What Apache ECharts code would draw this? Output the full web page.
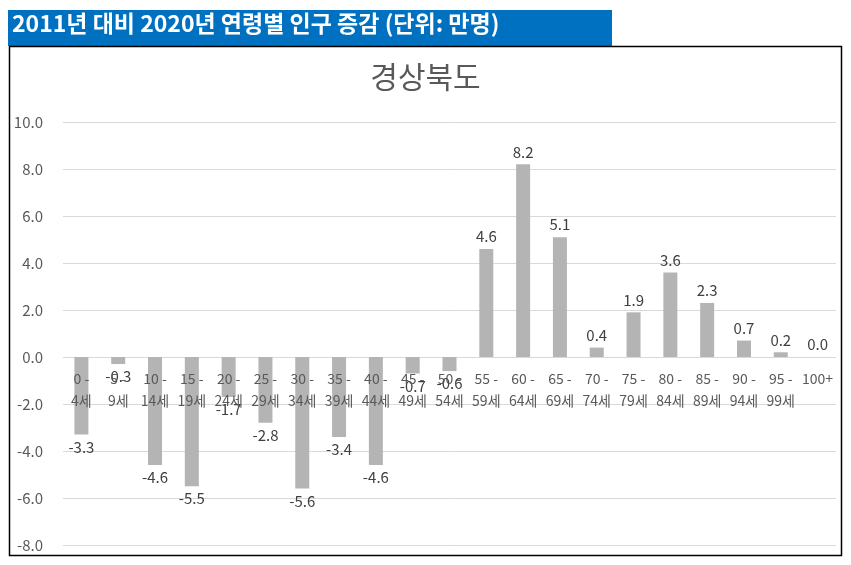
<!DOCTYPE html>
<html>
<head>
<meta charset="utf-8">
<script src="https://cdn.jsdelivr.net/npm/echarts@6/dist/echarts.min.js"></script>
<style>
html,body{margin:0;padding:0;background:#fff;}
#c{width:851px;height:565px;}
</style>
</head>
<body>
<div id="c"></div>
<script>
var headerText = '2011년 대비 2020년 연령별 인구 증감 (단위: 만명)';
var chartTitle = '경상북도';
var categories = ['0 -\n4세','5 -\n9세','10 -\n14세','15 -\n19세','20 -\n24세','25 -\n29세','30 -\n34세','35 -\n39세','40 -\n44세','45 -\n49세','50 -\n54세','55 -\n59세','60 -\n64세','65 -\n69세','70 -\n74세','75 -\n79세','80 -\n84세','85 -\n89세','90 -\n94세','95 -\n99세','100+'];
var values = [-3.3,-0.3,-4.6,-5.5,-1.7,-2.8,-5.6,-3.4,-4.6,-0.7,-0.6,4.6,8.2,5.1,0.4,1.9,3.6,2.3,0.7,0.2,0.0];
var yMin = -8, yMax = 10, yStep = 2;

var font = '"Noto Sans CJK KR", "Noto Sans", sans-serif';
var chart = echarts.init(document.getElementById('c'));
chart.setOption({
  animation: false,
  textStyle: {fontFamily: font},
  title: {
    text: chartTitle,
    left: 'center',
    top: 57,
    textStyle: {fontSize: 30, fontWeight: 'normal', color: '#595959', fontFamily: font}
  },
  graphic: [
    {type: 'rect', shape: {x: 8, y: 10, width: 604, height: 36}, style: {fill: '#0070c0'}},
    {type: 'text', left: 12, top: 12, style: {text: headerText, fill: '#fff', font: 'bold 23px ' + font}},
    {type: 'rect', shape: {x: 9.5, y: 46.5, width: 832, height: 509}, style: {fill: 'none', stroke: '#000', lineWidth: 1.5}}
  ],
  grid: {left: 63, right: 15, top: 122, bottom: 20, containLabel: false, outerBoundsMode: 'none'},
  xAxis: {
    type: 'category',
    data: categories,
    z: 10,
    axisLine: {onZero: false, show: false},
    axisTick: {show: false},
    axisLabel: {color: '#595959', fontSize: 14, lineHeight: 22, margin: 11, interval: 0, fontFamily: font}
  },
  yAxis: {
    type: 'value',
    min: yMin, max: yMax, interval: yStep,
    axisLine: {show: false},
    axisTick: {show: false},
    splitLine: {lineStyle: {color: '#d9d9d9'}},
    axisLabel: {color: '#595959', fontSize: 15, margin: 20, fontFamily: font,
      formatter: function (v) { return v.toFixed(1); }}
  },
  series: [{
    type: 'bar',
    z: 2,
    data: values.map(function (v) {
      return {value: v, label: {position: v < 0 ? 'bottom' : 'top'}};
    }),
    barWidth: 14,
    itemStyle: {color: '#b4b4b4'},
    label: {
      show: true,
      color: '#404040',
      fontSize: 15,
      fontFamily: font,
      distance: 5,
      formatter: function (p) { return p.value.toFixed(1); }
    }
  }]
});
// move category labels up to the zero line using the library's own y scale
var yZero = chart.convertToPixel({yAxisIndex: 0}, 0);
var yBottom = chart.convertToPixel({yAxisIndex: 0}, yMin);
chart.setOption({xAxis: {offset: -(yBottom - yZero)}});
</script>
</body>
</html>
